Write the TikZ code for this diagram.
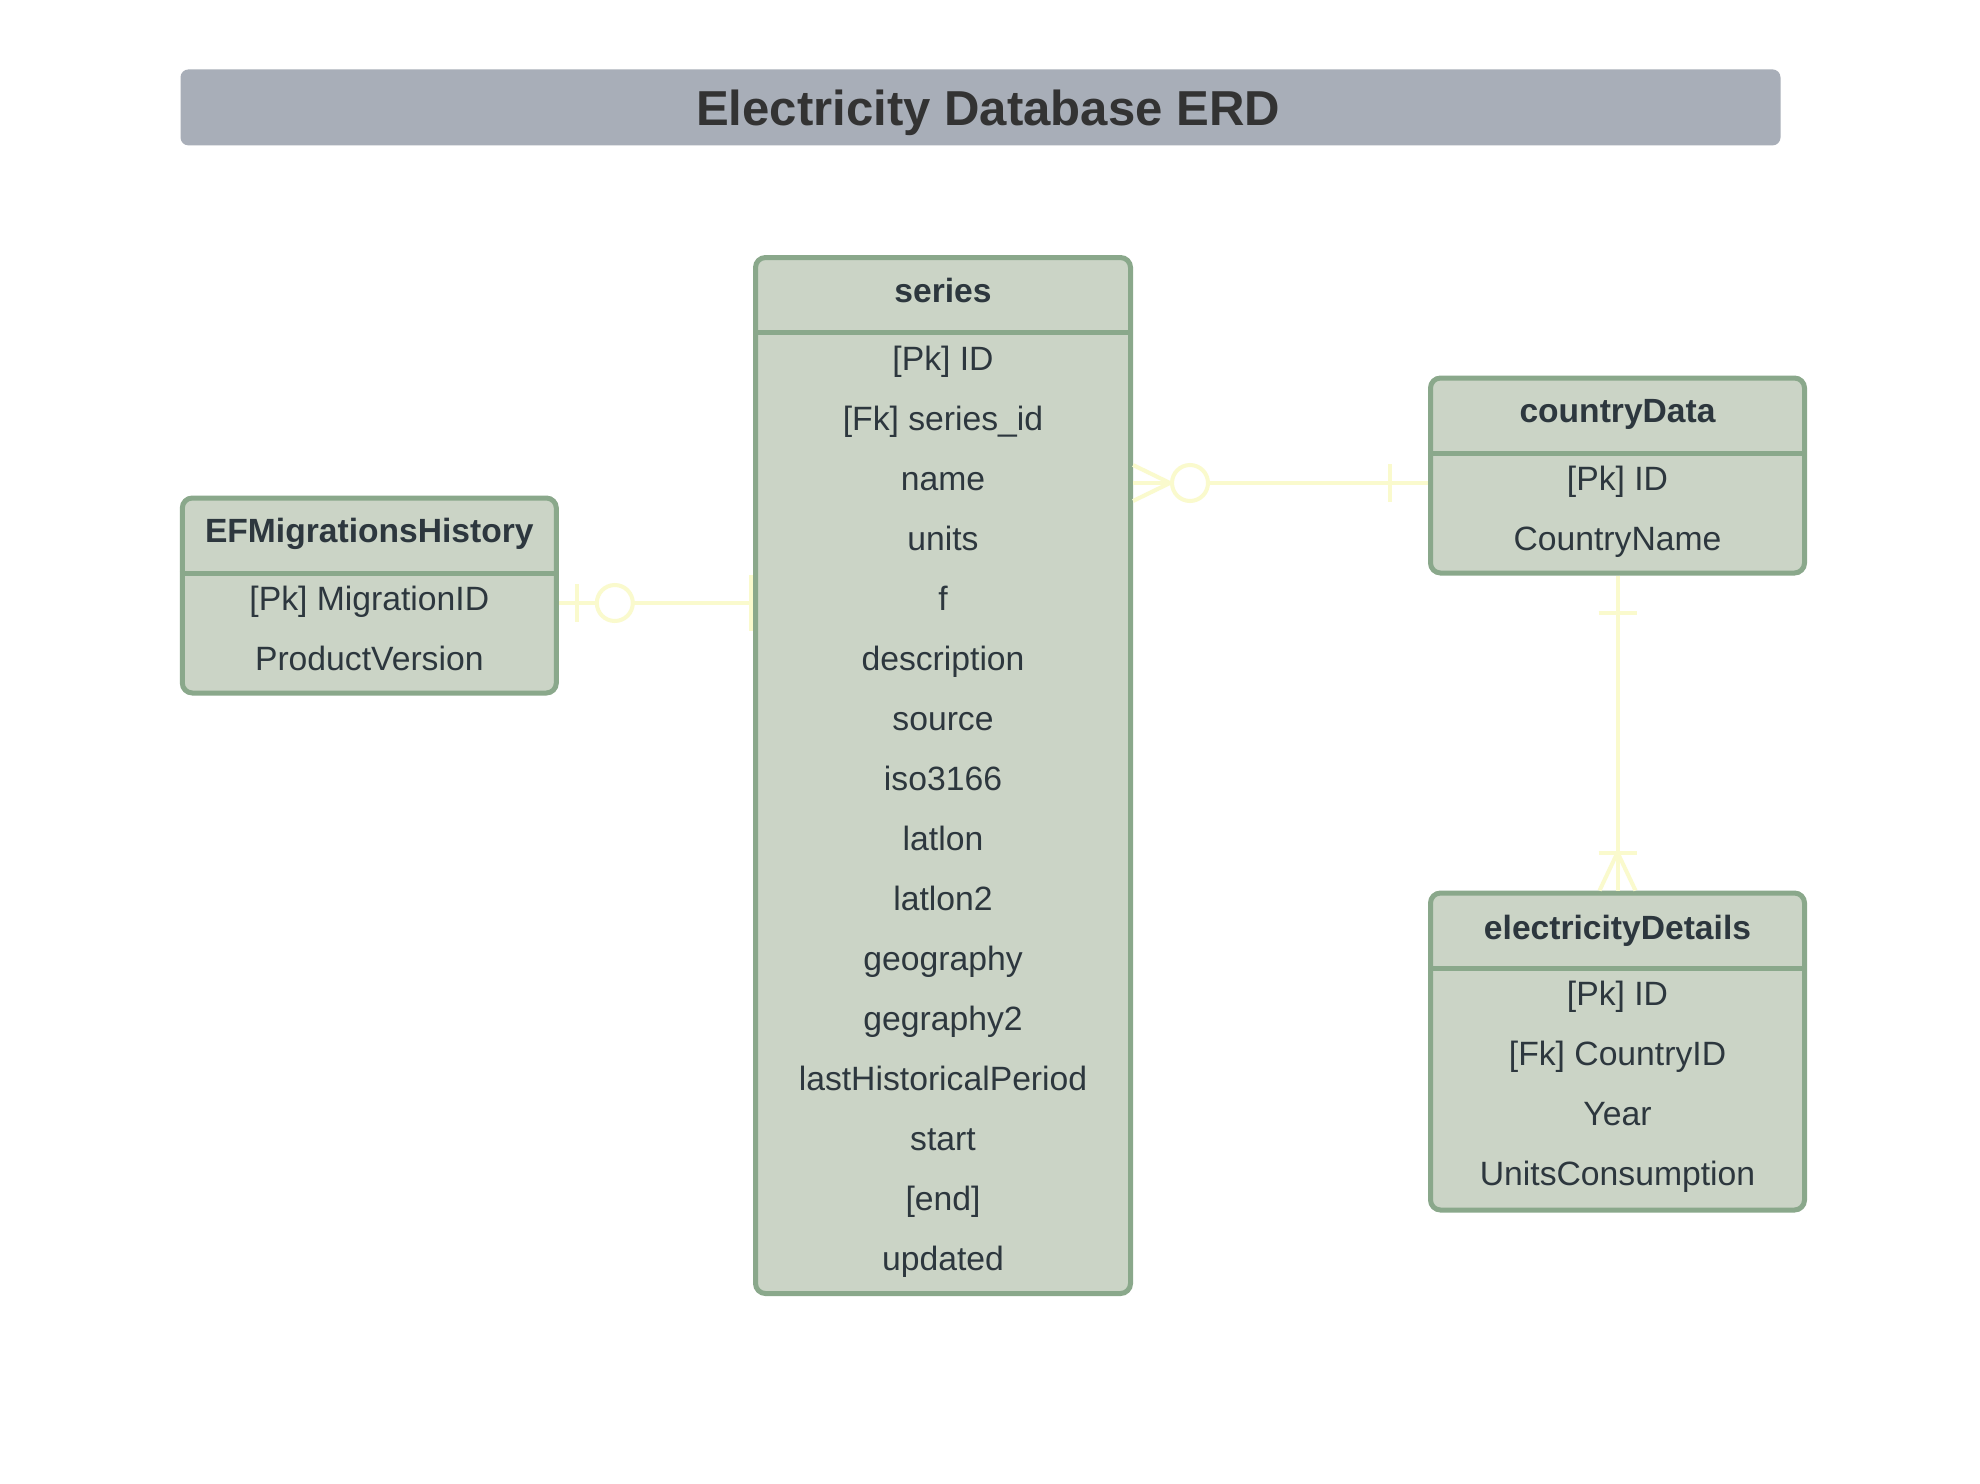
\documentclass[tikz,border=0pt]{standalone}
\usepackage{fontspec}
\setmainfont{Liberation Sans}
\definecolor{boxfill}{HTML}{CBD4C6}
\definecolor{boxline}{HTML}{8AA88B}
\definecolor{txt}{HTML}{2D373E}
\definecolor{titlefill}{HTML}{A8AEB8}
\definecolor{titletxt}{HTML}{333333}
\definecolor{relcol}{HTML}{FAFACD}
\tikzset{
  entity/.style={draw=boxline, fill=boxfill, line width=5pt, rounded corners=10pt,
                 minimum width=374pt, inner sep=0pt},
  hdr/.style={font=\fontsize{33.6}{40}\selectfont\bfseries, text=txt, inner sep=0pt, anchor=base},
  fld/.style={font=\fontsize{33.7}{40}\selectfont, text=txt, inner sep=0pt, anchor=base},
  rel/.style={draw=relcol, line width=4pt},
  ring/.style={draw=relcol, line width=4pt, fill=white},
  sepline/.style={draw=boxline, line width=5pt},
}
\begin{document}
\begin{tikzpicture}[x=1pt,y=-1pt]
\useasboundingbox[fill=white] (0,0) rectangle (1980,1483);

% title
\node[fill=titlefill, rounded corners=8pt, minimum width=1600pt, minimum height=76pt, inner sep=0pt]
  (titlebar) at (980.5,107.4) {};
\node[font=\fontsize{49.1}{58}\selectfont\bfseries, text=titletxt, inner sep=0pt, anchor=base]
  (titletext) at (988,125) {Electricity Database ERD};

% entity boxes
\node[entity, minimum width=375pt, minimum height=1036pt] (series) at (943,775.5) {};
\node[entity, minimum height=195pt] (ef) at (369.3,595.5) {};
\node[entity, minimum height=195pt] (cd) at (1617.5,475.5) {};
\node[entity, minimum height=317pt] (ed) at (1617.5,1051.5) {};

% separators
\draw[sepline] (series.west |- 0,332) -- (series.east |- 0,332);
\draw[sepline] (ef.west |- 0,573) -- (ef.east |- 0,573);
\draw[sepline] (cd.west |- 0,453) -- (cd.east |- 0,453);
\draw[sepline] (ed.west |- 0,968) -- (ed.east |- 0,968);

% series texts
\node[hdr] (sh) at (943,302) {series};
\foreach \t [count=\i] in {[Pk] ID,[Fk] series\_id,name,units,f,description,source,iso3166,latlon,latlon2,geography,gegraphy2,lastHistoricalPeriod,start,[end],updated}
  \node[fld] (s\i) at (943,{370+60*(\i-1)}) {\t};

% EF texts
\node[hdr] (efh) at (369.3,542) {EFMigrationsHistory};
\node[fld] (ef1) at (369.3,610) {[Pk] MigrationID};
\node[fld] (ef2) at (369.3,670) {ProductVersion};

% countryData texts
\node[hdr] (cdh) at (1617.5,422) {countryData};
\node[fld] (cd1) at (1617.5,490) {[Pk] ID};
\node[fld] (cd2) at (1617.5,550) {CountryName};

% electricityDetails texts
\node[hdr] (edh) at (1617.5,939) {electricityDetails};
\node[fld] (ed1) at (1617.5,1005) {[Pk] ID};
\node[fld] (ed2) at (1617.5,1065) {[Fk] CountryID};
\node[fld] (ed3) at (1617.5,1125) {Year};
\node[fld] (ed4) at (1617.5,1185) {UnitsConsumption};

% relation EF -- series (zero-or-one to one)
\coordinate (r1a) at (ef.east |- 0,603);
\coordinate (r1b) at (series.west |- 0,603);
\draw[rel] (r1a) -- (r1b);
\draw[rel] ([xshift=18pt]r1a) ++(0,-19) -- ++(0,38);
\draw[ring] ([xshift=56pt]r1a) circle[radius=18];
\draw[rel] ([xshift=-2pt]r1b) ++(0,-28) -- ++(0,56);

% relation series -- countryData (zero-or-many to one)
\coordinate (r2a) at (series.east |- 0,483);
\coordinate (r2b) at (cd.west |- 0,483);
\draw[rel] (r2a) -- (r2b);
\draw[rel] ([yshift=18pt]r2a) -- ([xshift=37pt]r2a) -- ([yshift=-18pt]r2a);
\draw[ring] ([xshift=57pt]r2a) circle[radius=18];
\draw[rel] ([xshift=-38pt]r2b) ++(0,-19) -- ++(0,38);

% relation countryData -- electricityDetails (one to one-or-many)
\draw[rel] (cd.south) -- (ed.north);
\draw[rel] ([yshift=-37pt]cd.south) ++(-19,0) -- ++(38,0);
\draw[rel] ([yshift=38pt]ed.north) ++(-19,0) -- ++(38,0);
\draw[rel] ([xshift=-18pt]ed.north) -- ([yshift=38pt]ed.north) -- ([xshift=18pt]ed.north);
\end{tikzpicture}
\end{document}
